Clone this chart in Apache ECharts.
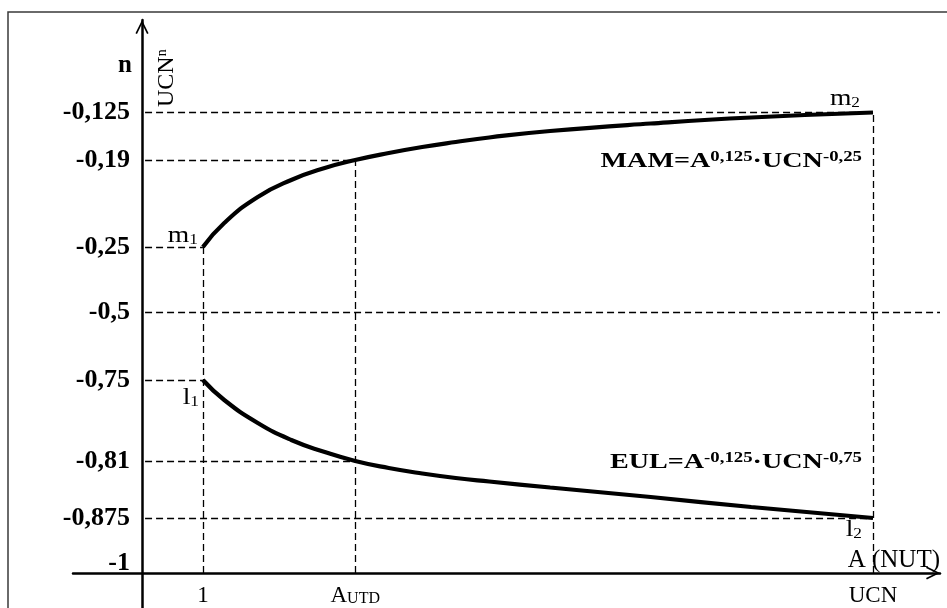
<!DOCTYPE html>
<html>
<head>
<meta charset="utf-8">
<script src="https://cdn.jsdelivr.net/npm/echarts@6/dist/echarts.min.js"></script>
<style>html,body{margin:0;padding:0;background:#fff}#main{width:947px;height:608px}</style>
</head>
<body>
<div id="main"></div>
<script>
// ---- data (schematic units) ----
const yTickLabels = ['-0,125', '-0,19', '-0,25', '-0,5', '-0,75', '-0,81', '-0,875', '-1'];
const yTickLevels = [46.05, 41.3, 32.6, 26.1, 19.3, 11.2, 5.5, 0];
const xTickLabels = ['1', 'A_UTD', 'UCN'];
const xTickValues = [1, 3.5, 12];
const guideEnds = [12, 3.5, 1, 13.1, 1, 3.5, 12];
const curveX = [1, 1.35, 1.9, 2.45, 3, 3.5, 4.05, 4.6, 5.15, 5.7, 6.7, 8.35, 10, 12];
const mamY = [32.6, 35.0, 37.6, 39.3, 40.5, 41.3, 42.0, 42.6, 43.1, 43.55, 44.2, 44.95, 45.55, 46.05];
const eulY = [19.3, 17.3, 15.0, 13.3, 12.1, 11.2, 10.5, 9.95, 9.5, 9.15, 8.55, 7.6, 6.6, 5.5];

const FONT = 'Liberation Serif';
const arrowPath = 'path://M0,12 L6,0 L12,12 L10.6,12.8 L6,3.4 L1.4,12.8 Z';

const mamData = curveX.map((x, i) => [x, mamY[i]]);
const eulData = curveX.map((x, i) => [x, eulY[i]]);

const guides = [];
yTickLevels.forEach((lv, i) => {
  if (lv > 0) guides.push([{ coord: [0.05, lv] }, { coord: [guideEnds[i], lv] }]);
});
xTickValues.forEach((xv) => {
  const top = mamY[curveX.indexOf(xv)];
  guides.push([{ coord: [xv, 0] }, { coord: [xv, top] }]);
});

function nearestIdx(arr, v) {
  let b = 0;
  arr.forEach((a, i) => { if (Math.abs(a - v) < Math.abs(arr[b] - v)) b = i; });
  return b;
}

const GRID = { left: 73, right: 7, top: 20, bottom: 0 };
const chart = echarts.init(document.getElementById('main'));
const option = {
  animation: false,
  backgroundColor: '#fff',
  grid: Object.assign({ containLabel: false, outerBoundsMode: 'none' }, GRID),
  xAxis: {
    type: 'value', min: -1.133, max: 13.1,
    name: 'A (NUT)', nameLocation: 'end', nameGap: 0,
    nameTextStyle: { fontFamily: FONT, fontSize: 25, color: '#000', align: 'right', verticalAlign: 'bottom' },
    axisLine: { onZero: true, symbol: ['none', arrowPath], symbolSize: [19, 14], symbolOffset: [0, -7],
      lineStyle: { color: '#000', width: 2.5 } },
    axisTick: { show: false },
    splitLine: { show: false },
    axisLabel: {
      customValues: xTickValues, margin: -25, color: '#000', fontFamily: FONT, fontSize: 23,
      formatter: v => {
        const s = xTickLabels[nearestIdx(xTickValues, v)];
        if (s === 'A_UTD') return '{a|A}{s|UTD}';
        return '{a|' + s + '}';
      },
      rich: {
        a: { fontFamily: FONT, fontSize: 23, lineHeight: 24, color: '#000', verticalAlign: 'bottom' },
        s: { fontFamily: FONT, fontSize: 16, lineHeight: 17, color: '#000', verticalAlign: 'bottom' }
      }
    }
  },
  yAxis: {
    type: 'value', min: -3.5, max: 55.3,
    axisLine: { onZero: true, symbol: ['none', arrowPath], symbolSize: [19, 14], symbolOffset: [0, -7],
      lineStyle: { color: '#000', width: 2.5 } },
    axisTick: { show: false },
    splitLine: { show: false },
    axisLabel: {
      customValues: yTickLevels, margin: -57, color: '#000', fontFamily: FONT, fontSize: 26, fontWeight: 'bold',
      formatter: v => {
        const i = nearestIdx(yTickLevels, v);
        if (yTickLevels[i] === 0) return '{lift|' + yTickLabels[i] + '}';
        return '{n|' + yTickLabels[i] + '}';
      },
      rich: {
        n: { fontFamily: FONT, fontSize: 26, fontWeight: 'bold', color: '#000' },
        lift: { fontFamily: FONT, fontSize: 26, fontWeight: 'bold', color: '#000', padding: [0, 0, 20, 0] }
      }
    }
  },
  series: [
    {
      name: 'MAM', type: 'line', data: mamData, smooth: 0.5,
      showSymbol: false, silent: true,
      lineStyle: { color: '#000', width: 4.2 },
      markLine: {
        silent: true, symbol: ['none', 'none'], label: { show: false },
        lineStyle: { color: '#000', width: 1.3, type: [7, 4] },
        data: guides
      }
    },
    {
      name: 'EUL', type: 'line', data: eulData, smooth: 0.5,
      showSymbol: false, silent: true,
      lineStyle: { color: '#000', width: 4.2 }
    }
  ]
};
chart.setOption(option);

const P = (x, y) => chart.convertToPixel({ gridIndex: 0 }, [x, y]);
const m1 = P(curveX[0], mamY[0]);
const m2 = P(curveX[curveX.length - 1], mamY[mamY.length - 1]);
const l1 = P(curveX[0], eulY[0]);
const l2 = P(curveX[curveX.length - 1], eulY[eulY.length - 1]);

const regRich = {
  m: { fontFamily: FONT, fontSize: 24, lineHeight: 26, fill: '#000', verticalAlign: 'bottom' },
  s: { fontFamily: FONT, fontSize: 15, lineHeight: 20, fill: '#000', verticalAlign: 'bottom' }
};
const fRich = {
  b: { fontFamily: FONT, fontSize: 21, fontWeight: 'bold', lineHeight: 22, fill: '#000', verticalAlign: 'bottom' },
  s: { fontFamily: FONT, fontSize: 14, fontWeight: 'bold', lineHeight: 16, fill: '#000', verticalAlign: 'top' }
};

chart.setOption({
  graphic: [
    { type: 'rect', silent: true, z: 100, shape: { x: 8, y: 12, width: 1000, height: 700 },
      style: { fill: 'none', stroke: '#3a3a3a', lineWidth: 1.5 } },
    { type: 'text', x: 125, y: 66, z: 100,
      style: { text: 'n', fontFamily: FONT, fontSize: 25, fontWeight: 'bold', fill: '#000', align: 'center', verticalAlign: 'middle' } },
    { type: 'text', x: 167, y: 107, rotation: Math.PI / 2, z: 100,
      style: { text: '{b|UCN}{s|n}', align: 'left', verticalAlign: 'middle',
        rich: { b: { fontFamily: FONT, fontSize: 24, lineHeight: 24, fill: '#000', verticalAlign: 'bottom' },
                s: { fontFamily: FONT, fontSize: 14, lineHeight: 14, fill: '#000', verticalAlign: 'top' } } } },
    { type: 'text', x: m1[0] - 5, y: m1[1] + 1, scaleX: 1.15, z: 100,
      style: { text: '{m|m}{s|1}', align: 'right', verticalAlign: 'bottom', rich: regRich } },
    { type: 'text', x: l1[0] - 4, y: l1[1] + 4, scaleX: 1.15, z: 100,
      style: { text: '{m|l}{s|1}', align: 'right', verticalAlign: 'top', rich: regRich } },
    { type: 'text', x: m2[0] - 13, y: m2[1] - 2, scaleX: 1.15, z: 100,
      style: { text: '{m|m}{s|2}', align: 'right', verticalAlign: 'bottom', rich: regRich } },
    { type: 'text', x: l2[0] - 11, y: l2[1] - 2, scaleX: 1.15, z: 100,
      style: { text: '{m|l}{s|2}', align: 'right', verticalAlign: 'top', rich: regRich } },
    { type: 'text', x: m2[0] - 11, y: m2[1] + 60, scaleX: 1.34, z: 100,
      style: { text: '{b|MAM=A}{s|0,125}{b|·UCN}{s|-0,25}', align: 'right', verticalAlign: 'bottom', rich: fRich } },
    { type: 'text', x: l2[0] - 11, y: l2[1] - 45, scaleX: 1.34, z: 100,
      style: { text: '{b|EUL=A}{s|-0,125}{b|·UCN}{s|-0,75}', align: 'right', verticalAlign: 'bottom', rich: fRich } }
  ]
});
</script>
</body>
</html>
